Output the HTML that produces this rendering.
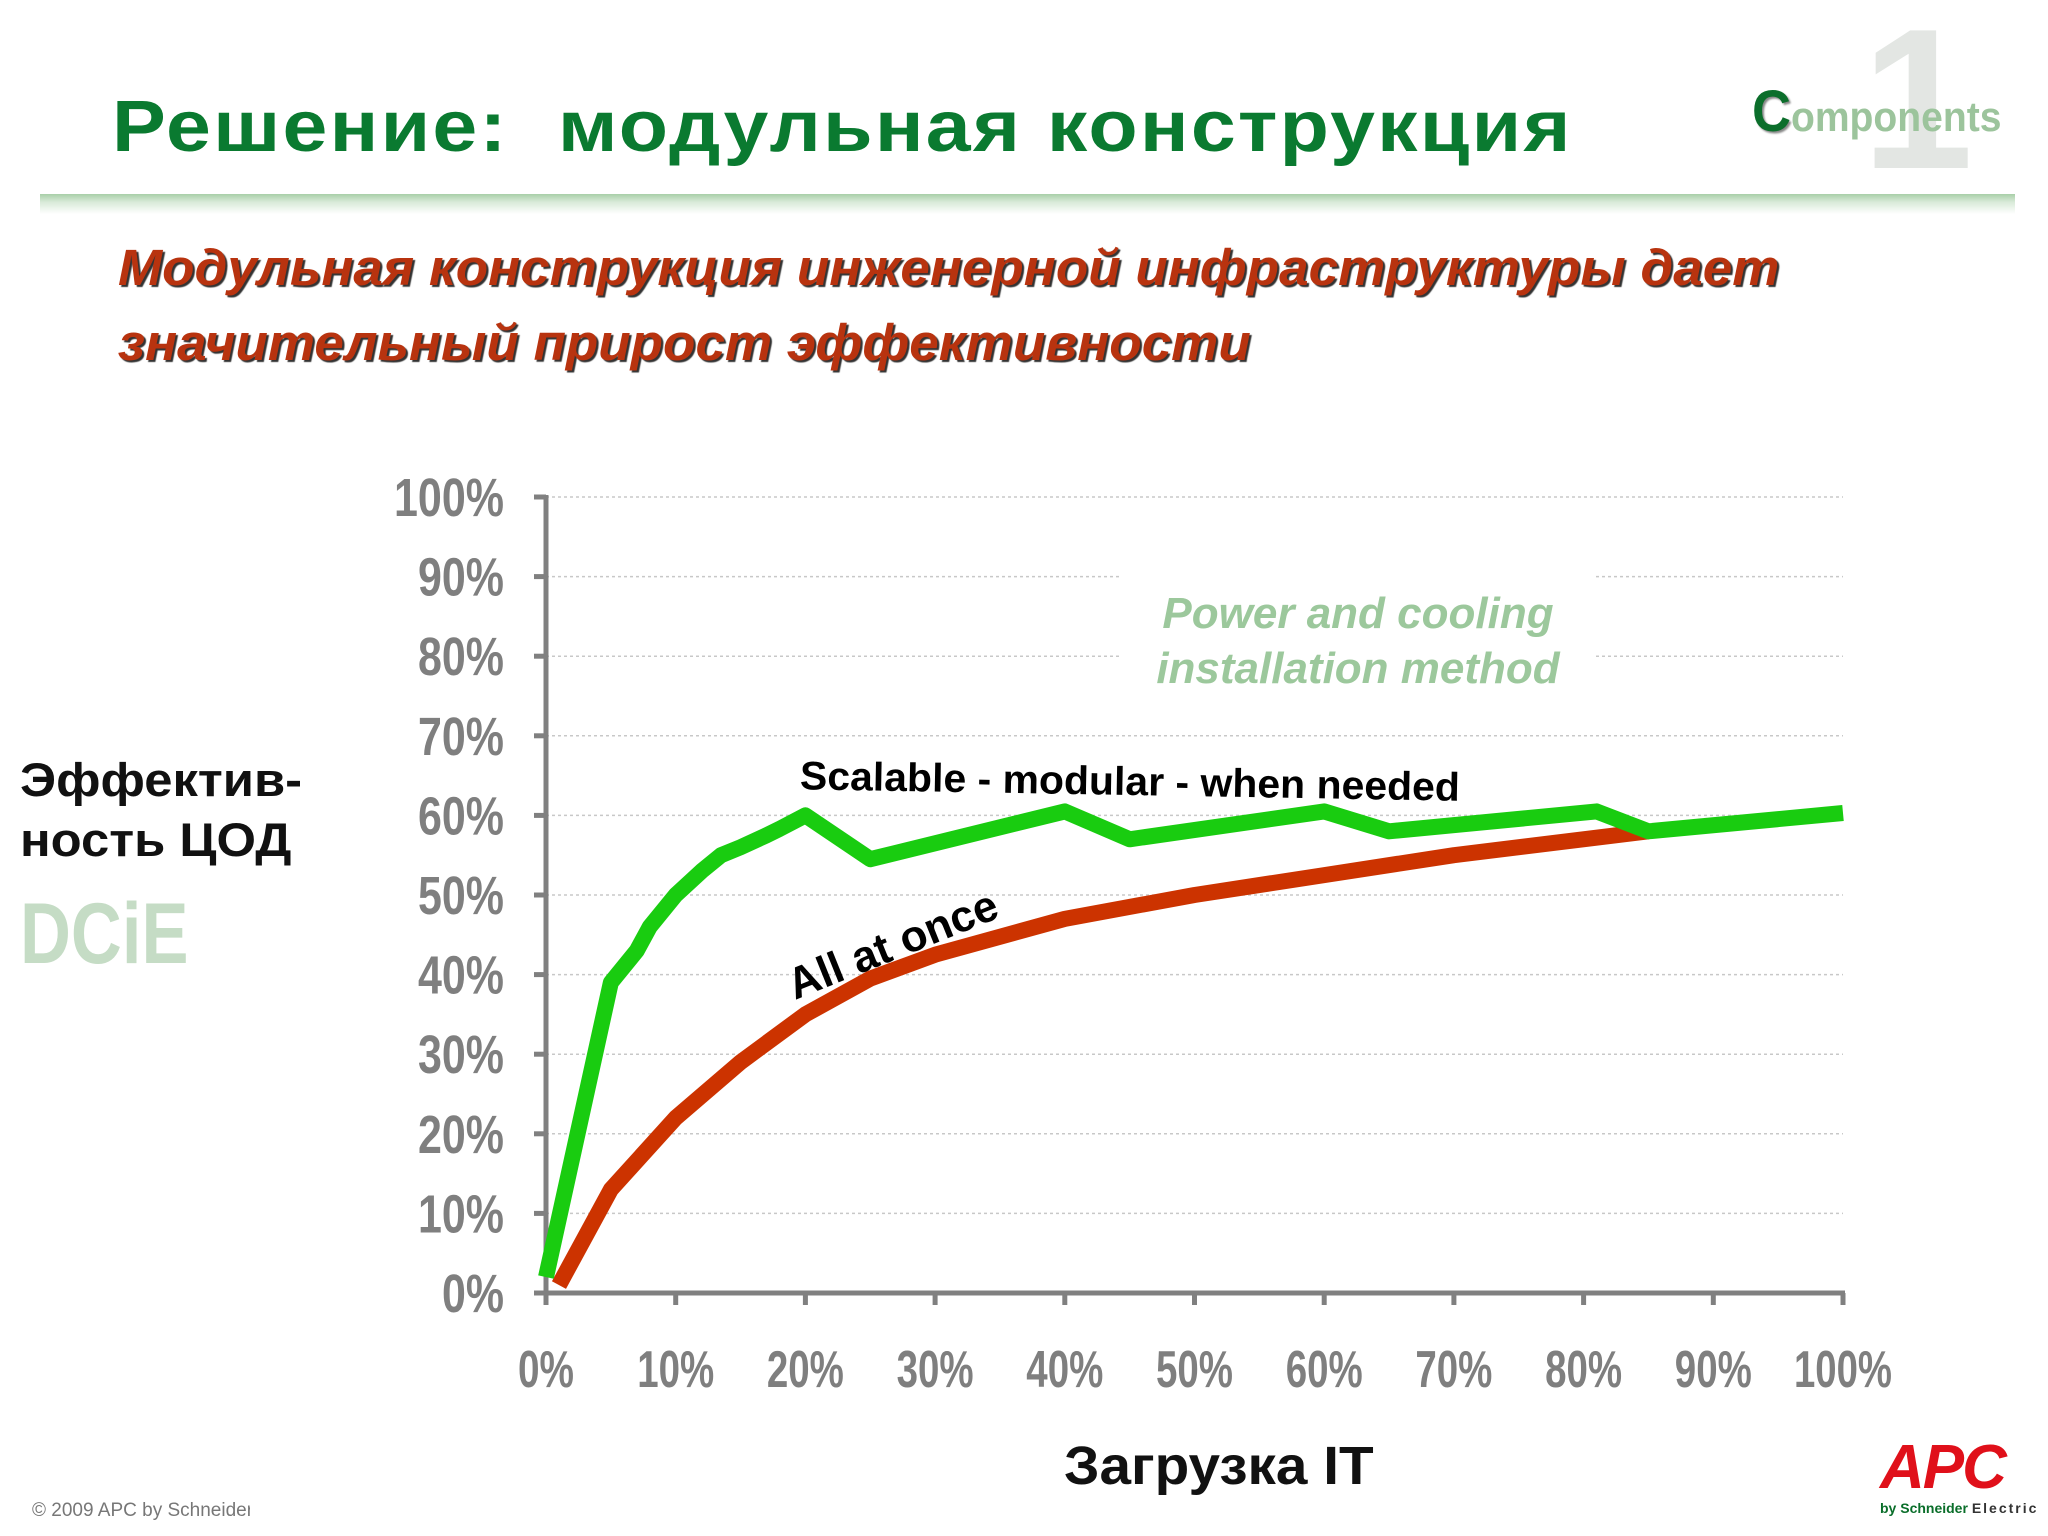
<!DOCTYPE html>
<html><head><meta charset="utf-8"><style>
body{margin:0;width:2048px;height:1536px;background:#fff;overflow:hidden;font-family:"Liberation Sans","DejaVu Sans",sans-serif;position:relative}
.a{position:absolute;white-space:nowrap}
</style></head><body>
<div class="a" style="left:1862px;top:0px;font-size:200px;font-weight:bold;color:#e3e6e3;line-height:1">1</div>
<div class="a" style="left:1752px;top:78px;font-size:42px;font-weight:bold;color:#9cc49c;transform:scaleX(0.93);transform-origin:left"><span style="color:#0b6e2b;font-size:58px;text-shadow:2px 2px 2px #888">C</span>omponents</div>
<div class="a" style="left:112px;top:86px;font-size:72px;font-weight:bold;color:#0a7a30;letter-spacing:2px;transform:scaleX(1.12);transform-origin:left">Решение:&nbsp; модульная конструкция</div>
<div class="a" style="left:40px;top:194px;width:1975px;height:20px;background:linear-gradient(#a8cfa8,#d8ead8 40%,#fff)"></div>
<div class="a" style="left:118px;top:230px;font-size:51px;font-weight:bold;font-style:italic;color:#b8330f;line-height:75px;text-shadow:2px 2px 1px #333;transform:scaleX(1.04);transform-origin:left">Модульная конструкция инженерной инфраструктуры дает<br>значительный прирост эффективности</div>
<div class="a" style="left:20px;top:750px;font-size:47px;font-weight:bold;color:#111;line-height:60px;transform:scaleX(1.08);transform-origin:left">Эффектив-<br>ность ЦОД</div>
<div class="a" style="left:20px;top:885px;font-size:86px;font-weight:bold;color:#c5dcc5;transform:scaleX(0.82);transform-origin:left">DCiE</div>
<div class="a" style="left:1064px;top:1435px;font-size:54px;font-weight:bold;color:#111;transform:scaleX(1.05);transform-origin:left">Загрузка IT</div>
<div class="a" style="left:32px;top:1500px;width:218px;overflow:hidden;font-size:19px;color:#777">© 2009 APC by Schneider Electric</div>
<div class="a" style="left:1880px;top:1432px;font-size:62px;font-weight:bold;font-style:italic;color:#e0101a;letter-spacing:-2px">APC</div>
<div class="a" style="left:1880px;top:1500px;font-size:14px;font-weight:bold;color:#0a6e2a">by Schneider <span style="letter-spacing:2px;color:#333">Electric</span></div>
<svg id="chart" class="a" style="left:0;top:0" width="2048" height="1536"></svg>
<script>
const xTicks=[0,10,20,30,40,50,60,70,80,90,100];
const yTicks=[0,10,20,30,40,50,60,70,80,90,100];
const scalableX=[0,5,7,8,10,12,13.5,15,17,18,20,25,40,45,60,65,81,85,100];
const scalableY=[2,39,43,46,50,53,55,56,57.5,58.3,60,54.5,60.5,57,60.5,58,60.5,58,60.3];
const allOnceX=[1,5,10,15,20,25,30,40,50,60,70,85];
const allOnceY=[1,13,22,29,35,39.5,42.5,47,50,52.5,55,58];
const X0=546,X1=1843,Y0=1293,Y1=497;
const sx=v=>X0+(X1-X0)*v/100, sy=v=>Y0-(Y0-Y1)*v/100;
const svg=document.getElementById('chart');const NS='http://www.w3.org/2000/svg';
function mk(t,a){const e=document.createElementNS(NS,t);for(const k in a)e.setAttribute(k,a[k]);svg.appendChild(e);return e;}
yTicks.forEach(v=>{
 if(v>0){const g=mk('line',{x1:X0,x2:X1,y1:sy(v),y2:sy(v),stroke:'#c8c8c8','stroke-width':1.5,'stroke-dasharray':'3,3'});
 
 }
 const t=mk('line',{x1:X0-12,x2:X0,y1:sy(v),y2:sy(v),stroke:'#808080','stroke-width':5});
 
 
 const l=mk('text',{x:504,y:sy(v)+19,'text-anchor':'end','font-size':54,'font-weight':'bold',fill:'#7f7f7f','font-family':'Liberation Sans Narrow, Liberation Sans, sans-serif',textLength:String(v).length*24+38,lengthAdjust:'spacingAndGlyphs'});
 l.textContent=v+'%';
 
 
});
xTicks.forEach(v=>{
 const t=mk('line',{x1:sx(v),x2:sx(v),y1:Y0,y2:Y0+12,stroke:'#808080','stroke-width':5});
 
 
 const l=mk('text',{x:sx(v),y:1387,'text-anchor':'middle','font-size':52,'font-weight':'bold',fill:'#7f7f7f','font-family':'Liberation Sans Narrow, Liberation Sans, sans-serif',textLength:String(v).length*21+35,lengthAdjust:'spacingAndGlyphs'});
 l.textContent=v+'%';
 
 
});
const box=mk('rect',{x:1120,y:575,width:473,height:130,fill:'#fff'});


const ya=mk('line',{x1:X0,x2:X0,y1:Y1-2,y2:Y0+3,stroke:'#808080','stroke-width':5});


const xa=mk('line',{x1:X0-2,x2:X1+2,y1:Y0,y2:Y0,stroke:'#808080','stroke-width':5});


const rp=mk('polyline',{points:allOnceX.map((x,i)=>sx(x)+','+sy(allOnceY[i])).join(' '),fill:'none',stroke:'#cc3300','stroke-width':16,'stroke-linejoin':'round'});


const gp=mk('polyline',{points:scalableX.map((x,i)=>sx(x)+','+sy(scalableY[i])).join(' '),fill:'none',stroke:'#19cc10','stroke-width':16,'stroke-linejoin':'round'});


function txt(s,a,name){const e=mk('text',a);e.textContent=s;return e;}
txt('Power and cooling',{x:1358,y:628,'text-anchor':'middle','font-size':44,'font-weight':'bold','font-style':'italic',fill:'#9cc89c'},'annotation-line-1');
txt('installation method',{x:1358,y:683,'text-anchor':'middle','font-size':44,'font-weight':'bold','font-style':'italic',fill:'#9cc89c'},'annotation-line-2');
txt('Scalable -  modular - when needed',{x:800,y:795,'font-size':40,'font-weight':'bold',fill:'#000',transform:'rotate(1 1130 780)',textLength:660,lengthAdjust:'spacingAndGlyphs'},'scalable-label');
txt('All at once',{x:0,y:0,'font-size':44,'font-weight':'bold',fill:'#000',transform:'translate(795 1000) rotate(-22)'},'all-at-once-label');
</script>
</body></html>
